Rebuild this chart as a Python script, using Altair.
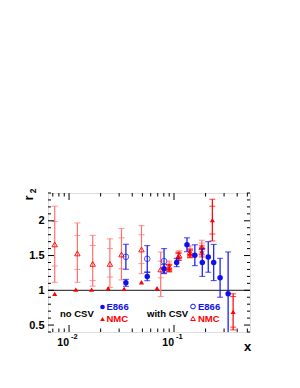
import altair as alt
import pandas as pd

# ---------------- data ----------------
# NMC, no CSV (filled red triangles)
nmc_x = [0.0073, 0.0116, 0.0164, 0.0236, 0.0335, 0.049, 0.069, 0.090, 0.110, 0.142, 0.184, 0.232, 0.366]
nmc_y = [0.948, 1.01, 1.01, 1.03, 1.02, 1.115, 1.03, 1.32, 1.49, 1.53, 1.56, 2.01, 0.69]
nmc_tot = [0.01, 0.01, 0.01, 0.01, 0.01, 0.015, 0.015, 0.05, 0.06, 0.06, 0.08, 0.30, 0.26]
nmc_stat = [0.01, 0.01, 0.01, 0.01, 0.01, 0.015, 0.015, 0.04, 0.04, 0.04, 0.05, 0.20, 0.22]

# E866, no CSV (filled blue circles)
e_x = [0.0348, 0.0556, 0.0804, 0.106, 0.133, 0.158, 0.186, 0.212, 0.239, 0.275, 0.328]
e_y = [1.107, 1.198, 1.31, 1.40, 1.655, 1.505, 1.40, 1.48, 1.40, 1.18, 0.952]
e_err = [0.05, 0.06, 0.06, 0.06, 0.10, 0.15, 0.20, 0.22, 0.26, 0.28, 0.60]

# E866, with CSV (open blue circles)
ec_x = [0.0348, 0.0556, 0.0804]
ec_y = [1.482, 1.453, 1.42]
ec_err = [0.18, 0.19, 0.18]

# NMC, with CSV (open red triangles)
nc_x = [0.0073, 0.0120, 0.0168, 0.0245, 0.0316, 0.049, 0.0747, 0.090, 0.112, 0.142, 0.184]
nc_y = [1.66, 1.53, 1.38, 1.38, 1.515, 1.587, 1.30, 1.34, 1.50, 1.55, 1.62]
nc_lo = [1.115, 1.115, 1.06, 1.04, 1.15, 1.24, 0.91, 1.26, 1.43, 1.47, 1.52]
nc_hi = [2.21, 1.97, 1.79, 1.74, 1.89, 1.93, 1.55, 1.42, 1.57, 1.64, 1.72]
nc_ilo = [1.35, 1.30, 1.14, 1.19, 1.31, 1.385, 1.18, 1.29, 1.46, 1.50, 1.56]
nc_ihi = [1.99, 1.79, 1.645, 1.60, 1.755, 1.80, 1.42, 1.39, 1.54, 1.60, 1.68]

# axis ticks / labels
x_major = [0.01, 0.1]
x_major_exp = ["-2", "-1"]
x_minor = [0.007, 0.008, 0.009, 0.02, 0.03, 0.04, 0.05, 0.06, 0.07, 0.08, 0.09,
           0.2, 0.3, 0.4, 0.5]
y_major = [0.5, 1.0, 1.5, 2.0]
y_minor = [0.4, 0.6, 0.7, 0.8, 0.9, 1.1, 1.2, 1.3, 1.4, 1.6, 1.7, 1.8, 1.9, 2.1, 2.2, 2.3, 2.4]

# ---------------- styling ----------------
W, H = 202, 139
RED = "#ff0000"
LRED = "#ff7070"
BLUE = "#1010ee"
FONT = "Liberation Sans"

xs = alt.Scale(type="log", domain=[0.0063, 0.53], nice=False)
ys = alt.Scale(domain=[0.4, 2.4], nice=False, zero=False)
yaxis = alt.Axis(values=y_major, ticks=False, domain=False, grid=False, title=None,
                 labelFont=FONT, labelFontWeight="bold", labelFontSize=11,
                 labelPadding=4, labelColor="black",
                 labelExpr="datum.value == 1 ? '1' : datum.value == 2 ? '2' : datum.label")


def X(f="x"):
    return alt.X(f"{f}:Q", scale=xs, axis=None)


def Y(f="y"):
    return alt.Y(f"{f}:Q", scale=ys, axis=yaxis)


nmc = pd.DataFrame({"x": nmc_x, "y": nmc_y, "tot": nmc_tot,
                    "lo": [a - b for a, b in zip(nmc_y, nmc_tot)],
                    "hi": [a + b for a, b in zip(nmc_y, nmc_tot)],
                    "ilo": [a - b for a, b in zip(nmc_y, nmc_stat)],
                    "ihi": [a + b for a, b in zip(nmc_y, nmc_stat)]})
e866 = pd.DataFrame({"x": e_x, "y": e_y,
                     "lo": [a - b for a, b in zip(e_y, e_err)],
                     "hi": [a + b for a, b in zip(e_y, e_err)]})
e866c = pd.DataFrame({"x": ec_x, "y": ec_y,
                      "lo": [a - b for a, b in zip(ec_y, ec_err)],
                      "hi": [a + b for a, b in zip(ec_y, ec_err)]})
nmcc = pd.DataFrame({"x": nc_x, "y": nc_y, "lo": nc_lo, "hi": nc_hi,
                     "ilo": nc_ilo, "ihi": nc_ihi})


def bars(df, color, ticks, tsize, tickdf=None):
    base = alt.Chart(df)
    tb = alt.Chart(df if tickdf is None else tickdf)
    layers = [base.mark_rule(color=color, strokeWidth=1.2, clip=True).encode(
        x=X(), y=Y("lo"), y2="hi:Q")]
    for t in ticks:
        layers.append(tb.mark_tick(color=color, orient="horizontal", size=tsize,
                                   thickness=1.1, clip=True).encode(x=X(), y=Y(t)))
    return layers


layers = []

# y = 1 reference line
layers.append(alt.Chart(pd.DataFrame({"y": [1.0]})).mark_rule(
    color="#444444", strokeWidth=1.3).encode(y=Y()))

# with CSV NMC (light) behind
layers += bars(nmcc, LRED, ["lo", "hi", "ilo", "ihi"], 6)
layers.append(alt.Chart(nmcc).mark_point(shape="triangle-up", filled=False, color=RED,
                                          size=30, strokeWidth=1, opacity=0.9).encode(x=X(), y=Y()))
# with CSV E866
layers += bars(e866c, BLUE, ["lo", "hi"], 6)
layers.append(alt.Chart(e866c).mark_point(shape="circle", filled=False, color=BLUE,
                                           size=32, strokeWidth=1).encode(x=X(), y=Y()))
# no CSV NMC
layers += bars(nmc, RED, ["lo", "hi", "ilo", "ihi"], 6, tickdf=nmc[nmc["tot"] > 0.03])
layers.append(alt.Chart(nmc).mark_point(shape="triangle-up", filled=True, color=RED,
                                         size=26, opacity=1).encode(x=X(), y=Y()))
# no CSV E866
layers += bars(e866, BLUE, ["lo", "hi"], 6)
layers.append(alt.Chart(e866).mark_point(shape="circle", filled=True, color=BLUE,
                                          size=30, opacity=1).encode(x=X(), y=Y()))

# inward ticks
xmaj = pd.DataFrame({"x": x_major, "e": x_major_exp})
xmin = pd.DataFrame({"x": x_minor})
ymaj = pd.DataFrame({"y": y_major})
ymin = pd.DataFrame({"y": y_minor})
tk = dict(color="black", strokeWidth=1)
for df, ln in [(xmaj, 7), (xmin, 3.5)]:
    layers.append(alt.Chart(df).mark_rule(**tk).encode(x=X(), y=alt.value(H), y2=alt.value(H - ln)))
    layers.append(alt.Chart(df).mark_rule(**tk).encode(x=X(), y=alt.value(0), y2=alt.value(ln)))
for df, ln in [(ymaj, 6), (ymin, 3)]:
    layers.append(alt.Chart(df).mark_rule(**tk).encode(y=Y(), x=alt.value(0), x2=alt.value(ln)))
    layers.append(alt.Chart(df).mark_rule(**tk).encode(y=Y(), x=alt.value(W), x2=alt.value(W - ln)))

# x tick labels 10^n
layers.append(alt.Chart(xmaj).mark_text(text="10", align="right", baseline="middle",
                                        font=FONT, fontWeight="bold", fontSize=10.5,
                                        color="black", dx=0).encode(x=X(), y=alt.value(H + 11)))
layers.append(alt.Chart(xmaj).mark_text(align="left", baseline="middle", font=FONT,
                                        fontWeight="bold", fontSize=7.5, color="black",
                                        dx=2).encode(x=X(), y=alt.value(H + 5), text="e:N"))


def txt(s, x, y, color="black", size=9.5, align="left", angle=0):
    return alt.Chart(pd.DataFrame({"t": [s]})).mark_text(
        align=align, baseline="middle", font=FONT, fontWeight="bold", fontSize=size,
        color=color, angle=angle).encode(x=alt.value(x), y=alt.value(y), text="t:N")


def sym(shape, filled, color, x, y):
    return alt.Chart(pd.DataFrame({"a": [0]})).mark_point(
        shape=shape, filled=filled, color=color, size=22, strokeWidth=1, opacity=1
    ).encode(x=alt.value(x), y=alt.value(y))


# axis titles
layers.append(txt("x", W - 6, H + 15, size=13))
layers.append(txt("r", -19, 5, size=13, align="center", angle=270))
layers.append(txt("2", -15, -2, size=8.5, align="center", angle=270))

# legends
layers.append(txt("no CSV", 12, 121))
layers.append(sym("circle", True, BLUE, 54.5, 114))
layers.append(txt("E866", 58.5, 114, color=BLUE))
layers.append(sym("triangle-up", True, RED, 54.5, 126))
layers.append(txt("NMC", 58.5, 126, color=RED))
layers.append(txt("with CSV", 99, 121))
layers.append(sym("circle", False, BLUE, 145, 113.5))
layers.append(txt("E866", 150, 113.5, color=BLUE))
layers.append(sym("triangle-up", False, RED, 145, 125.5))
layers.append(txt("NMC", 150, 125.5, color=RED))

chart = alt.layer(*layers).properties(
    width=W, height=H,
    autosize=alt.AutoSizeParams(type="none"),
    padding={"left": 40, "top": 185, "right": 42, "bottom": 48},
).configure_view(stroke="black", strokeWidth=1).configure(background="white")

chart.save("out.html", embed_options={"renderer": "svg", "actions": False})
